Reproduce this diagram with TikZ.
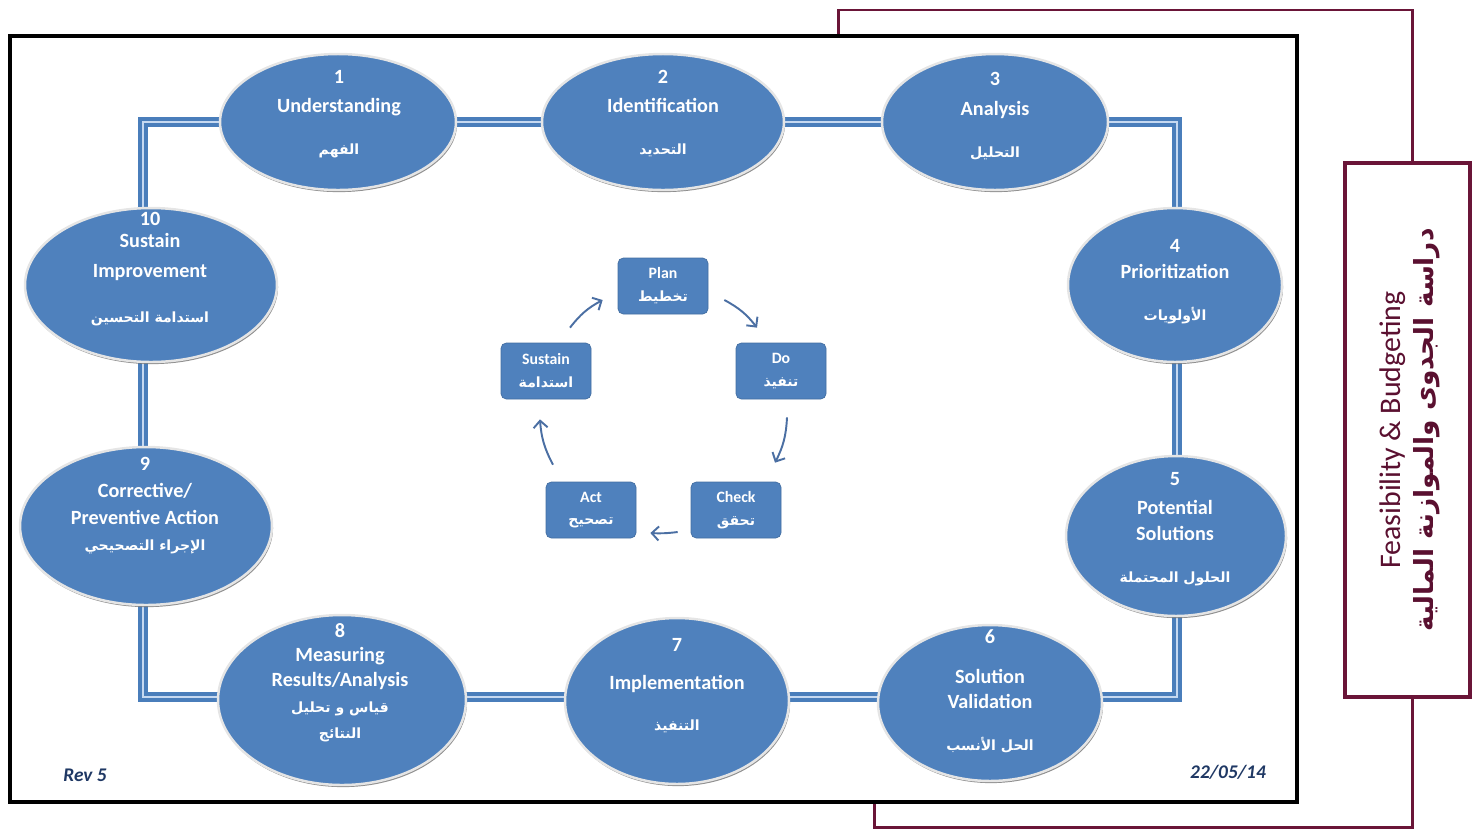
\documentclass[tikz,border=0pt]{standalone}
\usepackage{fontspec}
\setmainfont{Carlito}[BoldFont={Carlito Bold}, ItalicFont={Carlito Italic}, BoldItalicFont={Carlito Bold Italic}]
\newfontfamily\arabicfont[Script=Arabic]{DejaVu Sans}
\TeXXeTstate=1
\usetikzlibrary{shapes.geometric,arrows.meta,shadows,backgrounds}
\definecolor{eblue}{HTML}{4F81BD}
\definecolor{lblue}{HTML}{C6D9F1}
\definecolor{cblue}{HTML}{4A7EBB}
\definecolor{arrblue}{HTML}{4B6FA3}
\definecolor{mroon}{HTML}{6A1538}
\definecolor{mtext}{HTML}{5A1030}
\definecolor{navyt}{HTML}{1F3864}
\newcommand\artxt[2][8]{{\arabicfont\bfseries\fontsize{#1}{#1}\selectfont\beginR #2\endR}}
\begin{document}
\begin{tikzpicture}[x=0.02cm,y=-0.02cm,
  ell/.style={ellipse, fill=eblue, draw=white!90!black, line width=1.4pt, inner sep=0pt,
    drop shadow={shadow xshift=0.6pt, shadow yshift=-1.2pt, fill=black!55, opacity=0.8}},
  etxt/.style={text=white, font=\fontsize{11.5}{13.8}\selectfont\bfseries, align=center, inner sep=0pt},
  pbox/.style={rectangle, rounded corners=3pt, fill=eblue, draw=eblue!85!black, line width=0.4pt,
    minimum width=1.8cm, minimum height=1.12cm, text=white,
    font=\fontsize{9}{11}\selectfont\bfseries, align=center, inner sep=0pt},
  arr/.style={draw=arrblue, line width=1.1pt, -{Straight Barb[length=4pt,width=8pt]}},
  conn/.style={draw=cblue, line width=2.3pt, double=lblue, double distance=1.3pt, line join=miter},
  mline/.style={draw=mroon, line width=1.7pt},
  stamp/.style={text=navyt, font=\fontsize{11}{13}\selectfont\bfseries\itshape, inner sep=0pt}
]
\useasboundingbox (0,0) rectangle (1476,829);

% frames
\node[draw=black, line width=2.4pt, minimum width=25.74cm, minimum height=15.32cm, inner sep=0pt] (frame) at (653.5,419) {};
\node[draw=mroon, line width=2.3pt, minimum width=2.5cm, minimum height=10.68cm, inner sep=0pt] (fbox) at (1407.5,430) {};
\node[rotate=90, align=center, text=mtext, font=\fontsize{17}{18}\selectfont, inner sep=0pt] (ftxt) at (1410,430)
  {Feasibility \& Budgeting\\[1pt] \artxt[15]{دراسة الجدوى والموازنة المالية}};

\coordinate (mtl) at (838,10);
\coordinate (mtr) at (1412,10);
\coordinate (mbl) at (874,827);
\coordinate (mbr) at (1412,827);
\draw[mline] (mtl |- frame.north) -- (mtl) -- (mtr) -- (mtr |- fbox.north);
\draw[mline] (mbl |- frame.south) -- (mbl) -- (mbr) -- (mbr |- fbox.south);

% ellipses
\node[ell, minimum width=4.72cm, minimum height=2.72cm] (e1) at (338,122) {};
\node[ell, minimum width=4.84cm, minimum height=2.72cm] (e2) at (663,122) {};
\node[ell, minimum width=4.52cm, minimum height=2.72cm] (e3) at (995,122) {};
\node[ell, minimum width=4.28cm, minimum height=3.08cm] (e4) at (1175,285) {};
\node[ell, minimum width=4.4cm, minimum height=3.2cm] (e5) at (1176,536) {};
\node[ell, minimum width=4.48cm, minimum height=3.12cm] (e6) at (990,703) {};
\node[ell, minimum width=4.48cm, minimum height=3.32cm] (e7) at (677,701) {};
\node[ell, minimum width=4.96cm, minimum height=3.4cm] (e8) at (342,700) {};
\node[ell, minimum width=5.04cm, minimum height=3.16cm] (e9) at (146,526) {};
\node[ell, minimum width=5.04cm, minimum height=3.08cm] (e10) at (151,285) {};

\coordinate (ctl) at (143,122);
\coordinate (ctr) at (1177,122);
\coordinate (cbr) at (1177,697);
\coordinate (cbl) at (143,697);
\begin{pgfonlayer}{background}
\draw[conn] (e1.center) -- (e2.center) -- (e3.center) -- (ctr) -- (cbr) -- (e6.center |- cbr) -- (e7.center |- cbr) -- (e8.center |- cbr) -- (cbl) -- (ctl) -- cycle;
\end{pgfonlayer}

\node[etxt] (t1) at (339,114) {1\\[3.2pt] Understanding\\[10pt] \artxt{الفهم}};
\node[etxt] (t2) at (663,113.5) {2\\[3.2pt] Identification\\[10pt] \artxt{التحديد}};
\node[etxt] (t3) at (995,116) {3\\[3.2pt] Analysis\\[10pt] \artxt{التحليل}};
\node[etxt] (t4) at (1175,282) {4\\[1pt] Prioritization\\[10pt] \artxt{الأولويات}};
\node[etxt] (t5) at (1175,529) {5\\[3pt] Potential\\[1pt] Solutions\\[10pt] \artxt{الحلول المحتملة}};
\node[etxt] (t6) at (990,691.5) {6\\[9pt] Solution\\[0.5pt] Validation\\[10pt] \artxt{الحل الأنسب}};
\node[etxt] (t7) at (677,685.5) {7\\[7.7pt] Implementation\\[9.4pt] \artxt{التنفيذ}};
\node[etxt] (t8) at (340,683) {8\\[0pt] Measuring\\[0.4pt] Results/Analysis\\[1pt] \artxt{قياس و تحليل}\\[1pt] \artxt{النتائج}};
\node[etxt] (t9) at (145,505.5) {9\\[2pt] Corrective/\\[1.5pt] Preventive Action\\[1pt] \artxt{الإجراء التصحيحي}};
\node[etxt] (t10) at (150,269) {10\\[-1.3pt] Sustain\\[3.2pt] Improvement\\[12pt] \artxt{استدامة التحسين}};

% PDCA cycle
\node[pbox] (plan) at (663,286) {Plan\\[2pt] \artxt{تخطيط}};
\node[pbox] (do) at (781,371) {Do\\[2pt] \artxt{تنفيذ}};
\node[pbox] (check) at (736,510) {Check\\[2pt] \artxt{تحقق}};
\node[pbox] (act) at (591,510) {Act\\[2pt] \artxt{تصحيح}};
\node[pbox] (sustain) at (546,371) {Sustain\\[2pt] \artxt{استدامة}};

\draw[arr] ([shift={(24,-15)}]sustain.north) to[bend left=12] ([shift={(-15,14)}]plan.west);
\draw[arr] ([shift={(16,14)}]plan.east) to[bend left=12] ([shift={(-24,-15)}]do.north);
\draw[arr] ([shift={(6,18)}]do.south) to[bend left=12] ([shift={(39,-19)}]check.north);
\draw[arr] ([shift={(-13,22)}]check.west) to[bend left=5] ([shift={(14,23)}]act.east);
\draw[arr] ([shift={(-38,-17)}]act.north) to[bend left=12] ([shift={(-6,20)}]sustain.south);

\node[stamp] (rev) at (85,775) {Rev 5};
\node[stamp] (date) at (1228,772) {22/05/14};
\end{tikzpicture}
\end{document}
